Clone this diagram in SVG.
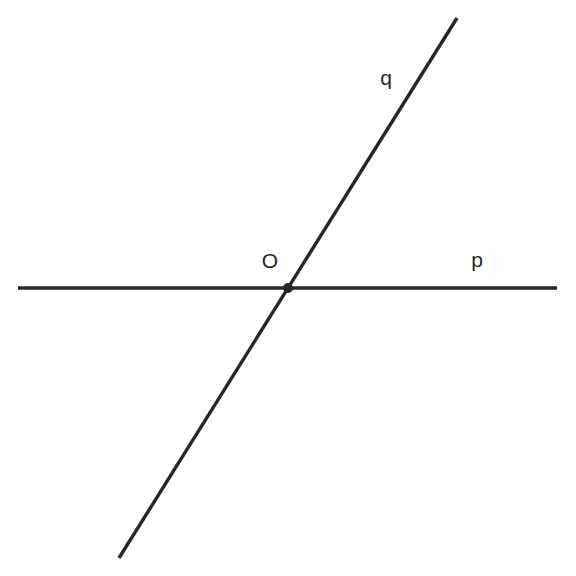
<svg xmlns="http://www.w3.org/2000/svg" width="576" height="576" viewBox="0 0 576 576">
<style>
.ln{stroke:#262626;stroke-width:3.4;fill:none}
.lb{font-family:"Liberation Sans",Arial,sans-serif;font-size:21px;fill:#262626;text-anchor:middle}
</style>
<rect width="576" height="576" fill="#ffffff"/>
<g id="connectors">
<line class="ln" x1="18" y1="288" x2="557" y2="288"/>
<line class="ln" x1="457" y1="18" x2="119" y2="558"/>
</g>
<g id="O">
<circle cx="288" cy="288" r="5" fill="#262626"/>
<text class="lb" x="270" y="268">O</text>
</g>
<g id="p"><text class="lb" x="477" y="267">p</text></g>
<g id="q"><text class="lb" x="386" y="85">q</text></g>
</svg>
